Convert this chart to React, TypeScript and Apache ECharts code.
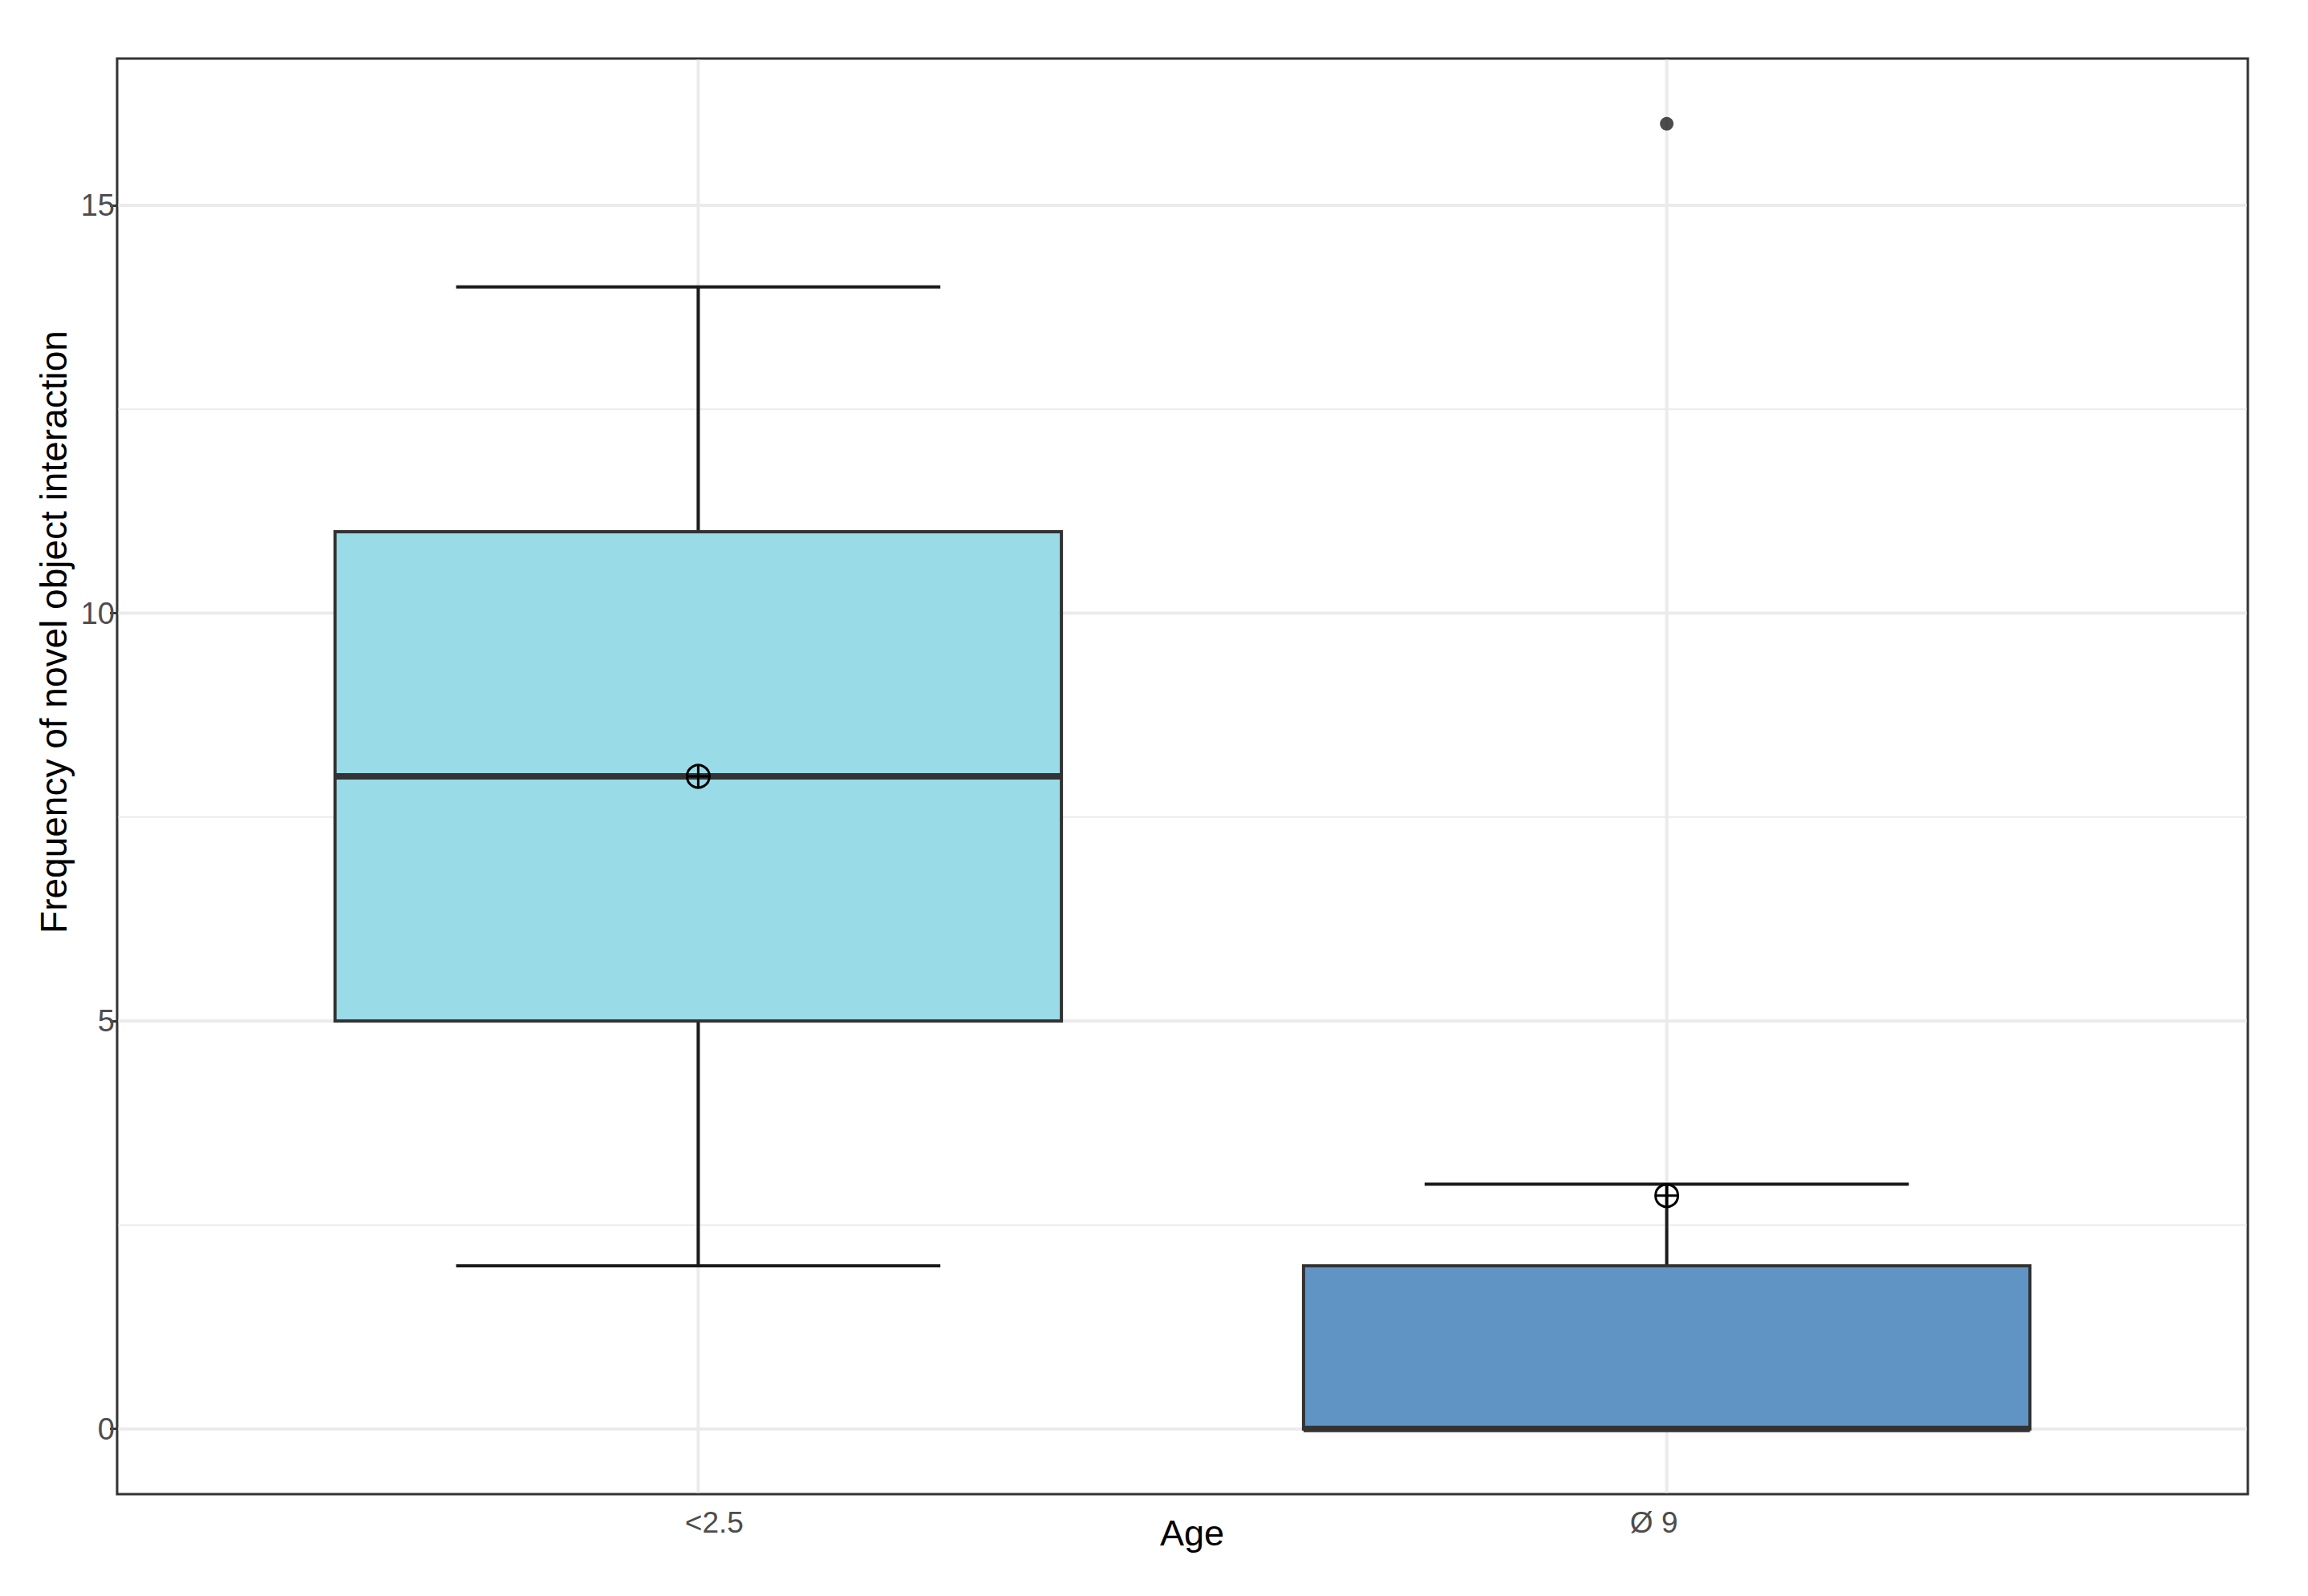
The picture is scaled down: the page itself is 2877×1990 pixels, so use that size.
import React, { useEffect, useRef } from "react";
import * as echarts from "echarts";

// ---- data ----
const categories = ["<2.5", "Ø 9"];
const whiskerLow = [2, 0];
const q1 = [5, 0];
const median = [8, 0];
const q3 = [11, 2];
const whiskerHigh = [14, 3];
const means = [8, 2.86];
const outliers: [number, number][] = [[2, 16]]; // [category position (1-based), value]
const yTicks = [0, 5, 10, 15];
const yMinorTicks = [2.5, 7.5, 12.5];
const xTicks = [1, 2];
const fills = ["#9ADBE8", "#5F94C4"];

export default function App() {
  const ref = useRef<HTMLDivElement>(null);

  useEffect(() => {
    document.body.style.margin = "0";
    const chart = echarts.init(ref.current!, null, { renderer: "svg" });

    const gridData = [
      ...yTicks.map((v) => [1, v, 0]),
      ...yMinorTicks.map((v) => [1, v, 1]),
      ...xTicks.map((v) => [v, 0, 2]),
    ];

    const boxData = categories.map((_, i) => [
      i + 1,
      whiskerLow[i],
      q1[i],
      median[i],
      q3[i],
      whiskerHigh[i],
    ]);

    const boxHalf = 0.375;
    const capHalf = 0.25;
    const lineCol = "#333333";

    const option: any = {
      animation: false,
      backgroundColor: "#ffffff",
      grid: {
        left: 146,
        top: 73,
        right: 75,
        bottom: 127,
        show: true,
        borderColor: "#333333",
        borderWidth: 3,
        backgroundColor: "transparent",
        containLabel: false,
        outerBoundsMode: "none",
      },
      xAxis: {
        type: "value",
        min: 0.4,
        max: 2.6,
        axisLine: { show: false },
        splitLine: { show: false },
        axisTick: {
          show: true,
          customValues: xTicks,
          length: 9,
          lineStyle: { color: "#333333", width: 3 },
        },
        axisLabel: {
          show: true,
          customValues: xTicks,
          margin: 17,
          color: "#4D4D4D",
          fontFamily: "Liberation Sans, Arial, sans-serif",
          fontSize: 37,
          formatter: (v: number) => {
            const i = Math.round(v) - 1;
            return i === 0 ? "{a|" + categories[0] + "}" : "{b|" + categories[1] + "}";
          },
          rich: {
            a: {
              fontSize: 37,
              color: "#4D4D4D",
              fontFamily: "Liberation Sans, Arial, sans-serif",
              padding: [0, 0, 0, 40],
            },
            b: {
              fontSize: 37,
              color: "#4D4D4D",
              fontFamily: "Liberation Sans, Arial, sans-serif",
              padding: [0, 32, 0, 0],
            },
          },
        },
      },
      yAxis: {
        type: "value",
        min: -0.8,
        max: 16.8,
        axisLine: { show: false },
        splitLine: { show: false },
        axisTick: {
          show: true,
          customValues: yTicks,
          length: 9,
          lineStyle: { color: "#333333", width: 3 },
        },
        axisLabel: {
          show: true,
          customValues: yTicks,
          margin: 3,
          color: "#4D4D4D",
          fontFamily: "Liberation Sans, Arial, sans-serif",
          fontSize: 38,
          padding: [14, 0, 0, 0],
        },
      },
      series: [
        {
          type: "custom",
          silent: true,
          z: 1,
          data: gridData,
          renderItem: (params: any, api: any) => {
            const kind = api.value(2);
            const cs = params.coordSys;
            if (kind === 2) {
              const x = api.coord([api.value(0), 0])[0];
              return {
                type: "line",
                shape: { x1: x, y1: cs.y + 1.5, x2: x, y2: cs.y + cs.height - 1.5 },
                style: { stroke: "#EBEBEB", lineWidth: 4 },
              };
            }
            const y = api.coord([1, api.value(1)])[1];
            return {
              type: "line",
              shape: { x1: cs.x + 1.5, y1: y, x2: cs.x + cs.width - 1.5, y2: y },
              style: { stroke: "#EBEBEB", lineWidth: kind === 0 ? 4 : 2 },
            };
          },
        },
        {
          type: "custom",
          silent: true,
          z: 2,
          data: boxData,
          encode: { x: 0, y: [1, 2, 3, 4, 5] },
          renderItem: (params: any, api: any) => {
            const x = api.value(0);
            const lo = api.value(1);
            const b1 = api.value(2);
            const md = api.value(3);
            const b3 = api.value(4);
            const hi = api.value(5);
            const p = (xx: number, yy: number) => api.coord([xx, yy]);
            const ln = (a: number[], b: number[], w: number, c: string) => ({
              type: "line",
              shape: { x1: a[0], y1: a[1], x2: b[0], y2: b[1] },
              style: { stroke: c, lineWidth: w },
            });
            const tl = p(x - boxHalf, b3);
            const br = p(x + boxHalf, b1);
            return {
              type: "group",
              children: [
                ln(p(x, b1), p(x, lo), 4, "#1a1a1a"),
                ln(p(x, b3), p(x, hi), 4, "#1a1a1a"),
                ln(p(x - capHalf, lo), p(x + capHalf, lo), 4, "#1a1a1a"),
                ln(p(x - capHalf, hi), p(x + capHalf, hi), 4, "#1a1a1a"),
                {
                  type: "rect",
                  shape: { x: tl[0], y: tl[1], width: br[0] - tl[0], height: br[1] - tl[1] },
                  style: { fill: fills[params.dataIndex], stroke: lineCol, lineWidth: 4 },
                },
                ln(p(x - boxHalf, md), p(x + boxHalf, md), 8, lineCol),
              ],
            };
          },
        },
        {
          type: "scatter",
          silent: true,
          z: 3,
          symbol: "circle",
          symbolSize: 17,
          itemStyle: { color: "#1f1f1f" },
          data: outliers,
        },
        {
          type: "custom",
          silent: true,
          z: 4,
          data: means.map((m, i) => [i + 1, m]),
          renderItem: (params: any, api: any) => {
            const c = api.coord([api.value(0), api.value(1)]);
            const r = 14;
            return {
              type: "group",
              children: [
                {
                  type: "circle",
                  shape: { cx: c[0], cy: c[1], r },
                  style: { fill: "none", stroke: "#000000", lineWidth: 3 },
                },
                {
                  type: "line",
                  shape: { x1: c[0] - r, y1: c[1], x2: c[0] + r, y2: c[1] },
                  style: { stroke: "#000000", lineWidth: 3 },
                },
                {
                  type: "line",
                  shape: { x1: c[0], y1: c[1] - r, x2: c[0], y2: c[1] + r },
                  style: { stroke: "#000000", lineWidth: 3 },
                },
              ],
            };
          },
        },
      ],
      graphic: [
        {
          type: "text",
          x: 1486,
          y: 1911,
          style: {
            text: "Age",
            fill: "#000000",
            font: "45px 'Liberation Sans', Arial, sans-serif",
            textAlign: "center",
            textVerticalAlign: "middle",
          },
        },
        {
          type: "text",
          x: 67,
          y: 788,
          rotation: Math.PI / 2,
          style: {
            text: "Frequency of novel object interaction",
            fill: "#000000",
            font: "46px 'Liberation Sans', Arial, sans-serif",
            textAlign: "center",
            textVerticalAlign: "middle",
          },
        },
      ],
    };

    chart.setOption(option);
    return () => chart.dispose();
  }, []);

  return (
    <div
      ref={ref}
      style={{ position: "absolute", left: 0, top: 0, width: 2877, height: 1990 }}
    />
  );
}
